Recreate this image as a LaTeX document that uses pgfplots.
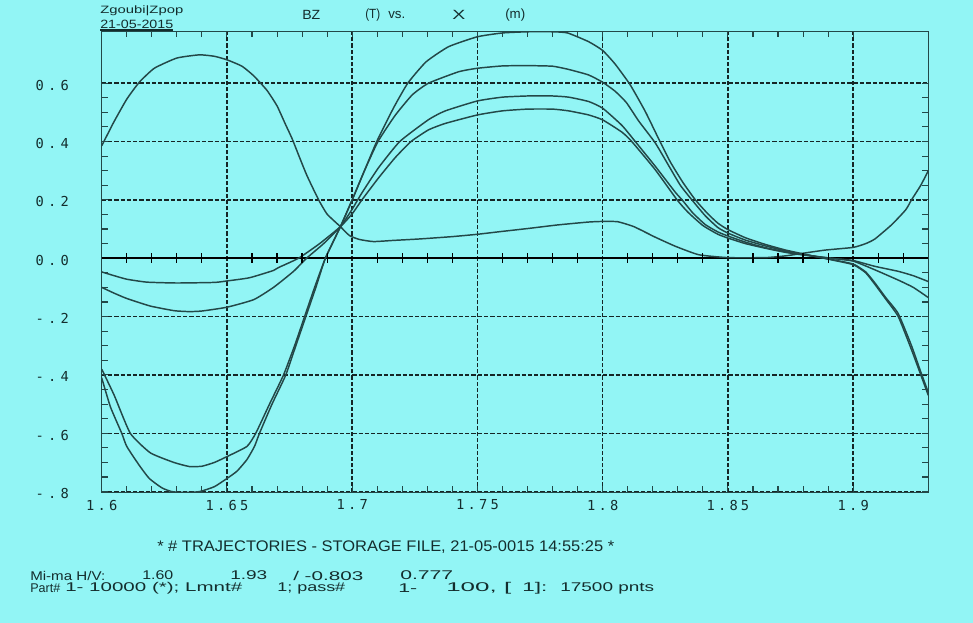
\documentclass[border=0pt]{standalone}
\usepackage{pgfplots}
\pgfplotsset{compat=1.18}
\usepackage{fontspec}
\usepackage{graphicx}
\setmainfont{Liberation Sans}
\newfontfamily\dvm{DejaVu Sans Mono}
\newcommand\tickfont{\dvm\fontsize{10.3}{12}\selectfont}
\definecolor{bg}{RGB}{146,245,245}
\definecolor{ln}{RGB}{35,72,72}
\definecolor{tc}{RGB}{20,45,45}
% letter-spaced labels
\newcommand\ls[2]{\def\lsk{#1}\lsfirst#2\relax}
\def\lsfirst#1{#1\lsrest}
\def\lsrest#1{\ifx#1\relax\else\kern\lsk#1\expandafter\lsrest\fi}
\newcommand\txt[5]{\node[anchor=west,inner sep=0pt,text=tc] at (#1,#3) {\sbox0{\fontsize{#4}{#4}\selectfont #5}\pgfmathsetmacro\sx{#2/\the\wd0}\scalebox{\sx}[1]{\usebox0}};}
\begin{document}
\begin{tikzpicture}[x=0.75pt,y=0.75pt]
\fill[bg] (0,0) rectangle (973,623);
\begin{axis}[
  at={(76.275pt,97.875pt)}, anchor=south west,
  scale only axis, width=619.95pt, height=345.75pt,
  xmin=1.6, xmax=1.93, ymin=-0.803, ymax=0.777,
  axis line style={ln, line width=1pt},
  xtick={1.6,1.65,1.7,1.75,1.8,1.85,1.9},
  xticklabels={\ls{2.4pt}{1.6},\ls{2.4pt}{1.65},\ls{2.4pt}{1.7},\ls{2.4pt}{1.75},\ls{2.4pt}{1.8},\ls{2.4pt}{1.85},\ls{2.4pt}{1.9}},
  ytick={-0.8,-0.6,-0.4,-0.2,0,0.2,0.4,0.6},
  yticklabels={\ls{3.2pt}{-.8},\ls{3.2pt}{-.6},\ls{3.2pt}{-.4},\ls{3.2pt}{-.2},\ls{3.2pt}{0.0},\ls{3.2pt}{0.2},\ls{3.2pt}{0.4},\ls{3.2pt}{0.6}},
  minor x tick num=4, minor y tick num=3,
  tick align=inside, major tick length=4.5pt, minor tick length=4.5pt,
  tick style={ln, line width=0.8pt},
  grid=major,
  major grid style={black!85!bg, dash pattern=on 3.2pt off 1.5pt, line width=1.1pt},
  xticklabel style={font=\tickfont, text=tc, yshift=-2pt},
  yticklabel style={font=\tickfont, text=tc, xshift=-21pt, yshift=-1.5pt},
  clip=true,
]
% zero line and its minor crosses
\addplot[black, line width=1.7pt] coordinates {(1.6,0) (1.93,0)};
\addplot[only marks, mark=|, mark size=3.6pt, mark options={black, line width=0.9pt}] coordinates {
(1.61,0)(1.62,0)(1.63,0)(1.64,0)(1.66,0)(1.67,0)(1.68,0)(1.69,0)(1.71,0)(1.72,0)(1.73,0)(1.74,0)
(1.76,0)(1.77,0)(1.78,0)(1.79,0)(1.81,0)(1.82,0)(1.83,0)(1.84,0)(1.86,0)(1.87,0)(1.88,0)(1.89,0)(1.91,0)(1.92,0)};
% E: hump curve
\addplot[ln, line width=1.1pt, smooth, tension=0.3] table {
1.600 0.385
1.6048 0.466
1.610 0.545
1.615 0.603
1.621 0.651
1.630 0.686
1.639 0.697
1.645 0.692
1.650 0.680
1.656 0.658
1.6607 0.625
1.666 0.575
1.670 0.522
1.6733 0.46
1.676 0.41
1.679 0.345
1.682 0.282
1.6866 0.200
1.690 0.151
1.6953 0.108
1.699 0.077
1.703 0.064
1.7085 0.057
1.7165 0.061
1.727 0.066
1.74 0.074
1.75 0.082
1.76 0.092
1.7704 0.102
1.782 0.114
1.7944 0.124
1.800 0.126
1.806 0.125
1.8125 0.108
1.821 0.072
1.829 0.041
1.8383 0.012
1.850 0.002
1.865 0.002
1.873 0.008
1.880 0.017
1.889 0.028
1.900 0.037
1.905 0.05
1.9087 0.066
1.9154 0.115
1.921 0.166
1.9233 0.200
1.927 0.25
1.930 0.30
};
% D -> F
\addplot[ln, line width=1.1pt, smooth, tension=0.3] table {
1.6 -0.41
1.6035 -0.51
1.608 -0.60
1.610 -0.645
1.615 -0.71
1.619 -0.755
1.624 -0.787
1.628 -0.800
1.633 -0.803
1.639 -0.800
1.645 -0.783
1.65 -0.755
1.654 -0.73
1.658 -0.69
1.661 -0.645
1.663 -0.60
1.668 -0.50
1.6735 -0.40
1.6775 -0.30
1.6815 -0.20
1.6855 -0.10
1.6893 0.0
1.6953 0.108
1.7 0.20
1.7049 0.30
1.7098 0.40
1.7165 0.515
1.7222 0.60
1.7295 0.673
1.7385 0.725
1.75 0.759
1.76 0.772
1.77 0.776
1.78 0.776
1.786 0.772
1.7944 0.742
1.8 0.712
1.805 0.665
1.811 0.594
1.817 0.503
1.8223 0.410
1.827 0.330
1.832 0.260
1.837 0.200
1.842 0.152
1.846 0.120
1.85 0.098
1.857 0.070
1.865 0.047
1.873 0.028
1.881 0.013
1.891 -0.005
1.9 -0.022
1.905 -0.05
1.9087 -0.09
1.913 -0.14
1.918 -0.20
1.9233 -0.314
1.927 -0.40
1.93 -0.47
};
% C -> G
\addplot[ln, line width=1.1pt, smooth, tension=0.3] table {
1.6 -0.38
1.605 -0.47
1.6114 -0.60
1.6194 -0.667
1.6288 -0.70
1.635 -0.714
1.64 -0.713
1.645 -0.70
1.65 -0.68
1.658 -0.645
1.6615 -0.60
1.667 -0.50
1.6726 -0.40
1.677 -0.30
1.681 -0.20
1.685 -0.10
1.6893 0.0
1.6953 0.108
1.7 0.20
1.7049 0.30
1.7103 0.40
1.7172 0.49
1.724 0.56
1.7305 0.60
1.7425 0.639
1.75 0.651
1.76 0.659
1.77 0.66
1.78 0.658
1.7864 0.647
1.7944 0.628
1.8 0.603
1.805 0.572
1.8095 0.533
1.8144 0.470
1.821 0.395
1.8263 0.318
1.831 0.250
1.8356 0.200
1.841 0.145
1.846 0.105
1.85 0.086
1.857 0.062
1.865 0.042
1.873 0.025
1.881 0.012
1.891 -0.004
1.9 -0.02
1.905 -0.047
1.9087 -0.085
1.913 -0.135
1.918 -0.19
1.9233 -0.30
1.927 -0.39
1.93 -0.46
};
% B -> H
\addplot[ln, line width=1.1pt, smooth, tension=0.3] table {
1.6 -0.10
1.605 -0.12
1.61 -0.138
1.6194 -0.164
1.629 -0.18
1.635 -0.183
1.64 -0.181
1.65 -0.168
1.6607 -0.142
1.6686 -0.10
1.6766 -0.045
1.6818 0.0
1.6886 0.05
1.6953 0.108
1.7 0.168
1.7039 0.224
1.7105 0.31
1.719 0.40
1.7305 0.475
1.7372 0.505
1.75 0.539
1.76 0.552
1.77 0.556
1.78 0.556
1.7864 0.552
1.7944 0.537
1.8 0.514
1.8077 0.455
1.813 0.40
1.821 0.315
1.829 0.226
1.8317 0.200
1.836 0.155
1.841 0.115
1.846 0.090
1.85 0.076
1.857 0.055
1.865 0.036
1.873 0.022
1.881 0.011
1.891 0.0
1.9 -0.01
1.9087 -0.04
1.918 -0.075
1.924 -0.10
1.93 -0.135
};
% A -> I
\addplot[ln, line width=1.1pt, smooth, tension=0.3] table {
1.6 -0.047
1.605 -0.06
1.61 -0.072
1.618 -0.082
1.63 -0.085
1.645 -0.083
1.65 -0.078
1.659 -0.067
1.6686 -0.042
1.6706 -0.032
1.6786 0.0
1.687 0.05
1.6953 0.108
1.7 0.152
1.7039 0.20
1.7105 0.275
1.7172 0.345
1.7235 0.40
1.7305 0.44
1.7372 0.462
1.75 0.491
1.76 0.505
1.77 0.511
1.78 0.511
1.7864 0.505
1.7944 0.491
1.8 0.474
1.8077 0.432
1.8116 0.40
1.821 0.303
1.8297 0.200
1.834 0.158
1.840 0.112
1.846 0.082
1.85 0.069
1.857 0.05
1.865 0.034
1.873 0.02
1.881 0.01
1.891 0.0
1.9 -0.008
1.9087 -0.028
1.918 -0.045
1.924 -0.06
1.93 -0.08
};
\end{axis}
% header
\txt{100}{62.25}{612}{8}{Zgoubi|Zpop}
\txt{100}{54.75}{598.5}{9}{21-05-2015}
\draw[tc, line width=0.8pt] (100,593) -- (173,593);
\txt{302}{13.5}{608}{10}{BZ}
\txt{365}{11.25}{608}{10}{(T)}
\txt{388}{12.75}{608}{10}{vs.}
\txt{452}{9.75}{608}{10}{X}
\txt{505}{15}{608}{10}{(m)}
% footer
\txt{157}{342.75}{76}{11.5}{* \# TRAJECTORIES - STORAGE FILE, 21-05-0015 14:55:25 *}
\txt{30}{56.25}{47.5}{9.5}{Mi-ma H/V:}
\txt{142}{23.25}{47.5}{9.5}{1.60}
\txt{230}{27.75}{47.5}{9.5}{1.93}
\txt{293}{52.5}{47.5}{9.5}{/ -0.803}
\txt{400}{39.75}{47.5}{9.5}{0.777}
\txt{30}{22.5}{34.5}{9.5}{Part\#}
\txt{65}{132.75}{34.5}{9.5}{1- 10000 (*); Lmnt\#}
\txt{277}{51}{34.5}{9.5}{1; pass\#}
\txt{398}{14.25}{34.5}{9.5}{1-}
\txt{446}{48.75}{34.5}{9.5}{100, [}
\txt{522}{18.75}{34.5}{9.5}{1]:}
\txt{560}{70.5}{34.5}{9.5}{17500 pnts}
\end{tikzpicture}
\end{document}
